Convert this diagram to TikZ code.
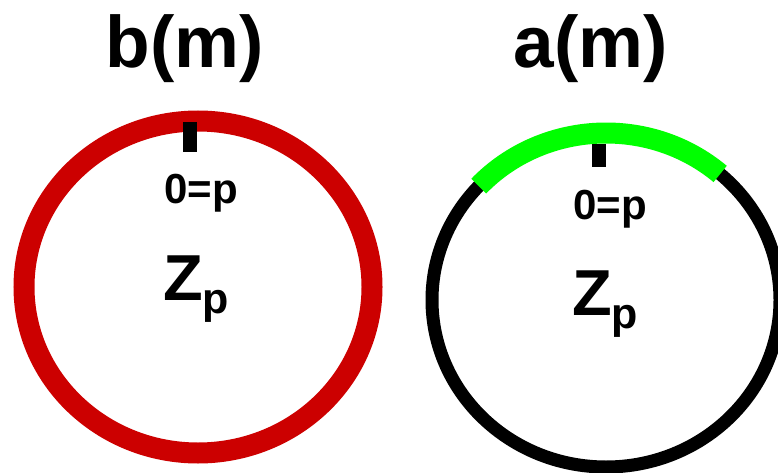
\documentclass[tikz,border=0pt]{standalone}
\usepackage{fontspec}
\setmainfont{Liberation Sans}
\definecolor{ringred}{RGB}{204,0,0}
\definecolor{arcgreen}{RGB}{0,255,0}

\begin{document}
\begin{tikzpicture}[
	x=1pt, y=-1pt,
	title/.style={ font=\fontsize{73}{73}\selectfont\bfseries, inner sep=0pt, anchor=base },
	zero/.style={ font=\fontsize{42}{42}\selectfont\bfseries, inner sep=0pt, anchor=base },
	group/.style={ font=\fontsize{65}{65}\selectfont\bfseries, inner sep=0pt, anchor=base },
	ticker/.style={ line width=14pt }
]
\useasboundingbox (0,0) rectangle (778,473);

% left ring: b(m)
\node at (185,68) (tb) [title] {b(m)};
\draw[ringred, line width=21pt] (198,287) ellipse [x radius=174, y radius=166];
\draw[ticker] (190,122) -- (190,152);
\node at (201,203) (zb) [zero] {0=p};
\node at (196,300) (gb) [group] {Z\raisebox{-13pt}{\fontsize{43}{43}\selectfont p}};

% right ring: a(m)
\node at (591,68) (ta) [title] {a(m)};
\draw[line width=13pt] (606,300) ellipse [x radius=174, y radius=167];
\draw[arcgreen, line width=21pt] ([shift={(-49:174 and 167)}]606,300)
	arc [start angle=-49, end angle=-137, x radius=174, y radius=167];
\draw[ticker] (599,144) -- (599,167);
\node at (610,219) (za) [zero] {0=p};
\node at (605,315) (ga) [group] {Z\raisebox{-13pt}{\fontsize{43}{43}\selectfont p}};

\end{tikzpicture}
\end{document}
